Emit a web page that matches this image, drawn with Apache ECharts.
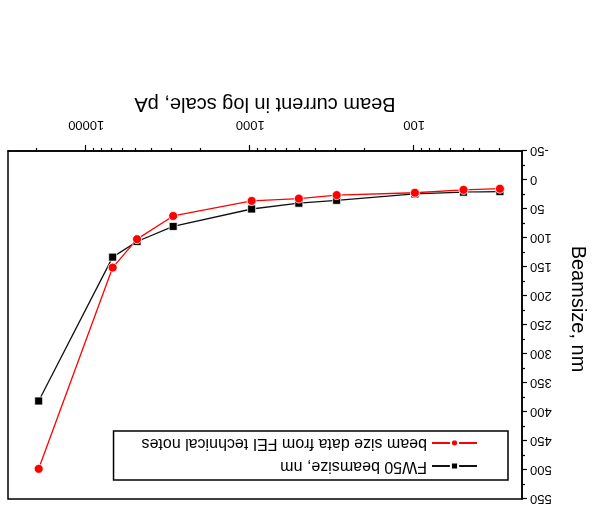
<!DOCTYPE html>
<html>
<head>
<meta charset="utf-8">
<script src="https://cdn.jsdelivr.net/npm/echarts@6/dist/echarts.min.js"></script>
<style>
    html, body { margin: 0; padding: 0; background: #fff; }
    /* the original figure is printed upside down */
    #echart { width: 603px; height: 512px; transform: rotate(180deg); }
</style>
</head>
<body>
<div id="echart"></div>
<script>
// beam current, pA (log axis)
var current = [19500, 6900, 4900, 2950, 980, 505, 297, 99, 50, 30];
// FW50 beamsize, nm
var fw50 = [381, 133, 106, 80, 50, 40, 35, 24, 21, 20];
// beam size data from FEI technical notes, nm
var feiNotes = [498, 151, 102, 62, 36, 32, 26, 22, 17, 15];

var seriesNames = ['FW50 beamsize, nm', 'beam size data from FEI technical notes'];
var majorTicks = [100, 1000, 10000];
var minorTicks = [30, 40, 50, 60, 70, 80, 90,
    200, 300, 400, 500, 600, 700, 800, 900,
    2000, 3000, 4000, 5000, 6000, 7000, 8000, 9000,
    20000];

function pairs(xs, ys) {
    var out = [];
    for (var i = 0; i < xs.length; i++) {
        out.push([xs[i], ys[i]]);
    }
    return out;
}

var myChart = echarts.init(document.getElementById('echart'));
var font = 'Liberation Sans, Arial, sans-serif';

var option = {
    backgroundColor: '#fff',
    animation: false,
    grid: {
        left: 81, right: 8, top: 13, bottom: 151,
        show: true,
        borderColor: '#000',
        borderWidth: 1.5
    },
    legend: {
        data: seriesNames,
        orient: 'vertical',
        left: 95,
        top: 32,
        itemWidth: 45,
        itemHeight: 9,
        itemGap: 7,
        padding: [6, 28, 4, 30],
        borderColor: '#000',
        borderWidth: 1.5,
        textStyle: { fontFamily: font, fontSize: 16, color: '#000' }
    },
    xAxis: [
        {
            type: 'log',
            logBase: 10,
            min: 22,
            max: 30000,
            name: 'Beam current in log scale, pA',
            nameLocation: 'middle',
            nameGap: 37,
            nameTextStyle: { fontFamily: font, fontSize: 20, color: '#000' },
            axisLine: { onZero: false, lineStyle: { color: '#000', width: 1.5 } },
            axisTick: { length: 6, customValues: majorTicks, lineStyle: { color: '#000', width: 1.2 } },
            axisLabel: {
                customValues: majorTicks,
                margin: 20,
                fontFamily: font, fontSize: 13, color: '#000',
                formatter: function (v) { return String(v); }
            },
            splitLine: { show: false }
        },
        {
            type: 'log',
            logBase: 10,
            min: 22,
            max: 30000,
            position: 'bottom',
            axisLine: { show: false, onZero: false },
            axisTick: { length: 3, customValues: minorTicks, lineStyle: { color: '#000', width: 1.2 } },
            axisLabel: { show: false },
            splitLine: { show: false }
        }
    ],
    yAxis: {
        type: 'value',
        min: -50,
        max: 550,
        interval: 50,
        name: 'Beamsize, nm',
        nameLocation: 'middle',
        nameGap: 46,
        nameTextStyle: { fontFamily: font, fontSize: 20, color: '#000', padding: [0, 32, 0, 0] },
        axisLine: { show: true, lineStyle: { color: '#000', width: 1.5 } },
        axisTick: { length: 5, lineStyle: { color: '#000', width: 1.2 } },
        minorTick: { show: true, splitNumber: 2, length: 3, lineStyle: { color: '#000', width: 1.2 } },
        axisLabel: { margin: 8, fontFamily: font, fontSize: 13, color: '#000' },
        splitLine: { show: false }
    },
    series: [
        {
            name: seriesNames[0],
            type: 'line',
            xAxisIndex: 0,
            data: pairs(current, fw50),
            symbol: 'rect',
            symbolSize: 8,
            lineStyle: { color: '#111', width: 1.3 },
            itemStyle: { color: '#000', borderColor: '#fff', borderWidth: 0.8 }
        },
        {
            name: seriesNames[1],
            type: 'line',
            xAxisIndex: 0,
            data: pairs(current, feiNotes),
            symbol: 'circle',
            symbolSize: 9,
            lineStyle: { color: '#ff0000', width: 1.3 },
            itemStyle: { color: '#ff0000', borderColor: '#fff', borderWidth: 0.8 }
        }
    ]
};
myChart.setOption(option);
</script>
</body>
</html>
